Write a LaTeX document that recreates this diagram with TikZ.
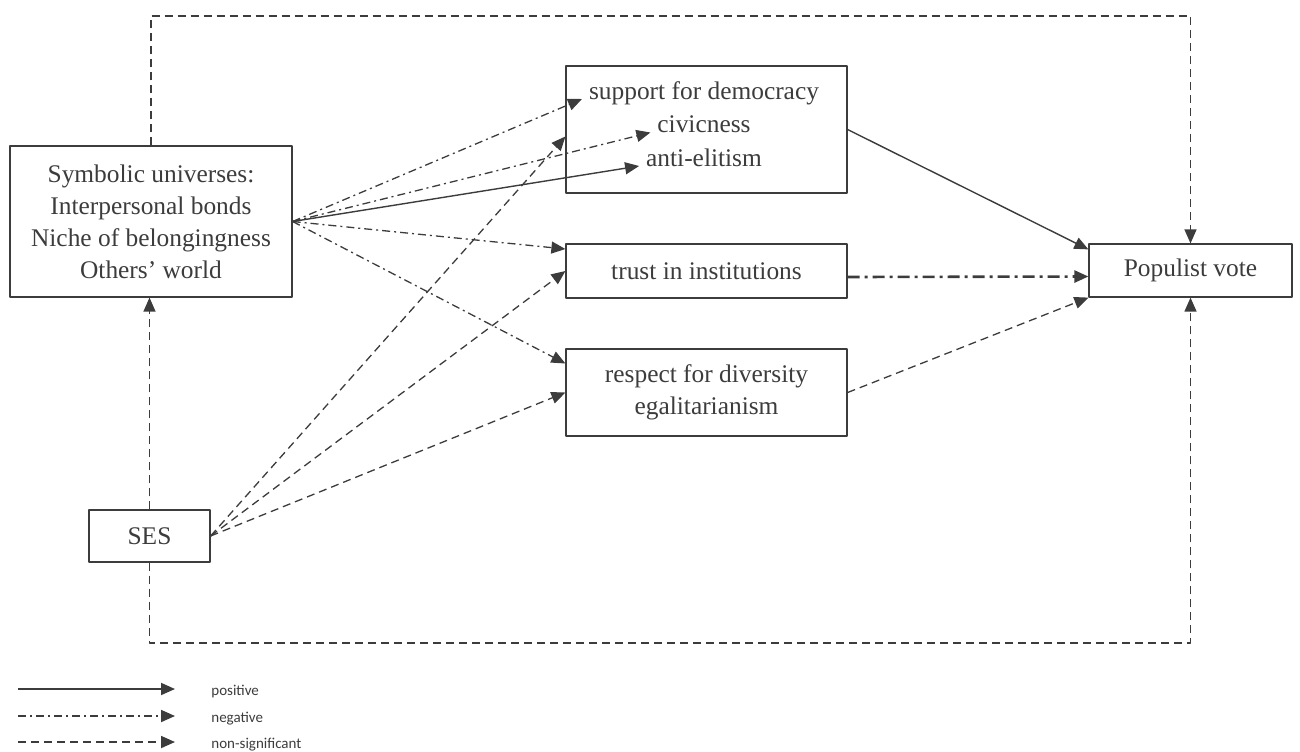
\documentclass[tikz,border=0pt]{standalone}
\usepackage{fontspec}
\setmainfont{Liberation Serif}
\newfontfamily\keyfont{Carlito}
\usetikzlibrary{arrows.meta}
\definecolor{ink}{HTML}{3C3C3C}
\begin{document}
\begin{tikzpicture}[x=.5pt, y=-.5pt, line join=round, >={Triangle[length=7pt,width=6pt]},
    box/.style={draw=ink, line width=.6pt, inner sep=0pt, text=ink, align=center, font=\fontsize{12.7}{16}\selectfont},
    txt/.style={text=ink, font=\fontsize{12.7}{16}\selectfont},
    posline/.style={->, draw=ink, line width=.7pt},
    negline/.style={->, draw=ink, line width=.65pt, dash pattern=on 4pt off 2pt on 1pt off 2pt},
    nsline/.style={->, draw=ink, line width=.65pt, dash pattern=on 4pt off 2.5pt},
    key/.style={text=ink, inner sep=0pt, anchor=west, font=\keyfont\fontsize{7.5}{9}\selectfont}]
    \useasboundingbox (0,0) rectangle (1300,751);
    % boxes
    \node[box, minimum width=141pt, minimum height=75.5pt] (sym) at (151,221.5)
        {Symbolic universes:\\Interpersonal bonds\\Niche of belongingness\\Others' world};
    \node[box, minimum width=60.5pt, minimum height=26pt] (ses) at (149.5,536) {SES};
    \node[box, minimum width=140.5pt, minimum height=63.5pt] (dem) at (706.5,129.5) {};
    \node[txt, anchor=base] (dem1) at (704,99) {support for democracy};
    \node[txt, anchor=base] (civ) at (704,132.5) {civicness};
    \node[txt, anchor=base] (anti) at (704,166) {anti-elitism};
    \node[box, minimum width=140.5pt, minimum height=27pt] (trust) at (706.5,271) {trust in institutions};
    \node[box, minimum width=140.5pt, minimum height=43.5pt] (resp) at (706.5,392.5)
        {respect for diversity\\egalitarianism};
    \node[box, minimum width=101.5pt, minimum height=26.5pt] (vote) at (1190.5,270.5) {Populist vote};
    % paths
    \coordinate (top) at (0,16); \coordinate (bot) at (0,643);
    \draw[nsline] (sym.north) -- (sym.north |- top) -| (vote.north);
    \draw[nsline] (ses.south) -- (ses.south |- bot) -| (vote.south);
    \draw[nsline] (ses.north) -- (ses.north |- sym.south);
    \draw[negline] (sym.east) -- (dem1.base west);
    \draw[negline] (sym.east) -- (civ.base west);
    \draw[posline] (sym.east) -- (anti.base west);
    \draw[negline] (sym.east) -- ([yshift=11pt]trust.west);
    \draw[negline] (sym.east) -- ([yshift=14.5pt]resp.west);
    \draw[nsline] (ses.east) -- ([yshift=-3.5pt]dem.west);
    \draw[nsline] (ses.east) -- (trust.west);
    \draw[nsline] (ses.east) -- (resp.west);
    \draw[posline] (dem.east) -- ([yshift=-3pt]vote.north west);
    \draw[negline, line width=1.3pt, dash pattern=on 6pt off 2.5pt on 1.5pt off 2.5pt]
        ([yshift=-3pt]trust.east) -- ([yshift=-3pt]vote.west);
    \draw[nsline] (resp.east) -- (vote.south west);
    % legend
    \foreach \y/\s/\t [count=\i] in {689/posline/positive,716/negline/negative,742/nsline/non-significant}{
        \coordinate (ka\i) at (18,\y); \coordinate (kb\i) at (175,\y);
        \node[key] (kt\i) at (211,\y+3) {\t};
        \draw[\s, line width=.9pt] (ka\i) -- (kb\i);
    }
\end{tikzpicture}
\end{document}
